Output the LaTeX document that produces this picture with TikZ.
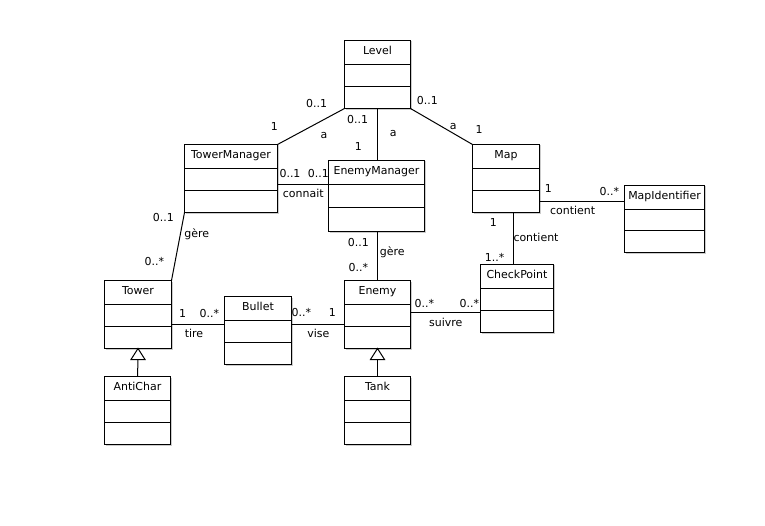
\documentclass[tikz,border=0pt]{standalone}
\usepackage{fontspec}
\setmainfont{DejaVu Sans}
\begin{document}
\begin{tikzpicture}[x=1bp,y=-1bp,
  umlclass/.style={draw=black, fill=white, line width=1bp, inner sep=0pt, outer sep=0pt, anchor=north west},
  boxshadow/.style={fill=black!20},
  umlline/.style={draw=black, line width=1bp},
  classtitle/.style={font=\fontsize{11}{13}\selectfont, inner sep=0pt, anchor=base},
  lbl/.style={font=\fontsize{11}{13}\selectfont, inner sep=0pt, anchor=base},
  gentri/.style={draw=black, fill=white, line width=1bp}]

% page area
\fill[white] (0,0) rectangle (765,526);
\useasboundingbox (0,0) rectangle (765,526);

% class box: name, left, top, width, height, title
\newcommand\classbox[6]{%
  \pgfmathsetmacro\cbsecond{24+(#5-24)/2}%
  \fill[boxshadow] (#2+1,#3+1) rectangle ++(#4+0.5,#5+0.5);
  \node[umlclass, minimum width=#4bp, minimum height=#5bp] (#1) at (#2,#3) {};
  \draw[umlline] ([yshift=-24bp]#1.north west) -- ([yshift=-24bp]#1.north east);
  \draw[umlline] ([yshift=-\cbsecond bp]#1.north west) -- ([yshift=-\cbsecond bp]#1.north east);
  \node[classtitle] (#1-title) at ([yshift=-14bp]#1.north) {#6};
}
% association label: name, x, baseline y, text
\newcommand\assoclabel[4]{\node[lbl] (#1) at (#2,#3) {#4};}

% half-pixel shift keeps the 1bp rules on the pixel grid
\begin{scope}[shift={(0.5,0.5)}]
% classes
\classbox{Level}{344}{40}{66}{68}{Level}
\classbox{TowerManager}{184}{144}{93}{68}{TowerManager}
\classbox{EnemyManager}{328}{160}{96}{71}{EnemyManager}
\classbox{Map}{472}{144}{67}{68}{Map}
\classbox{MapIdentifier}{624}{185}{80}{67}{MapIdentifier}
\classbox{CheckPoint}{480}{264}{73}{68}{CheckPoint}
\classbox{Tower}{104}{280}{67}{68}{Tower}
\classbox{Bullet}{224}{296}{67}{68}{Bullet}
\classbox{Enemy}{344}{280}{66}{68}{Enemy}
\classbox{AntiChar}{104}{376}{66}{68}{AntiChar}
\classbox{Tank}{344}{376}{66}{68}{Tank}

% associations
\draw[umlline] (Level.south west) -- (TowerManager.north east);
\coordinate (lvlink) at (377,108);
\draw[umlline] (lvlink) -- (lvlink |- EnemyManager.north);
\draw[umlline] (Level.south east) -- (Map.north west);
\coordinate (emlink) at ([yshift=-24bp]EnemyManager.north west);
\draw[umlline] (TowerManager.east |- emlink) -- (emlink);
\draw[umlline] (TowerManager.south west) -- (Tower.north east);
\coordinate (egerelink) at (377,231);
\draw[umlline] (EnemyManager.south -| egerelink) -- (Enemy.north -| egerelink);
\coordinate (maplink) at ([yshift=11bp]Map.south east);
\draw[umlline] (maplink) -- (MapIdentifier.west |- maplink);
\coordinate (cplink) at (513,212);
\draw[umlline] (Map.south -| cplink) -- (CheckPoint.north -| cplink);
\coordinate (tirelink) at ([yshift=6bp]Bullet.west);
\draw[umlline] (Tower.east |- tirelink) -- (tirelink);
\coordinate (viselink) at ([yshift=6bp]Bullet.east);
\draw[umlline] (viselink) -- (Enemy.west |- viselink);
\coordinate (suivlink) at ([yshift=2bp]Enemy.east);
\draw[umlline] (suivlink) -- (CheckPoint.west |- suivlink);

% generalizations
\draw[gentri] (Tower.south) -- ++(-7,11) -- ++(14,0) -- cycle;
\draw[umlline] ([yshift=-11bp]Tower.south) -- (AntiChar.north);
\draw[gentri] (Enemy.south) -- ++(-7,11) -- ++(14,0) -- cycle;
\draw[umlline] ([yshift=-11bp]Enemy.south) -- (Tank.north);
\end{scope}

% multiplicities and role names
\assoclabel{m1}{316.7}{107.5}{0..1}
\assoclabel{m2}{274.3}{130.7}{1}
\assoclabel{r1}{324}{139}{a}
\assoclabel{m3}{357.7}{123.3}{0..1}
\assoclabel{r2}{393.3}{137}{a}
\assoclabel{m4}{358.3}{150.7}{1}
\assoclabel{m5}{427.3}{104.7}{0..1}
\assoclabel{r3}{453.3}{130}{a}
\assoclabel{m6}{479}{134}{1}
\assoclabel{m7}{290}{178}{0..1}
\assoclabel{m8}{318.3}{178}{0..1}
\assoclabel{r4}{303.3}{198}{connait}
\assoclabel{m9}{163.3}{221.7}{0..1}
\assoclabel{r5}{196.7}{237.5}{gère}
\assoclabel{m10}{154.3}{265.7}{0..*}
\assoclabel{m11}{358.3}{246.3}{0..1}
\assoclabel{r6}{392.3}{256}{gère}
\assoclabel{m12}{358.3}{271.3}{0..*}
\assoclabel{m13}{182.7}{317.3}{1}
\assoclabel{m14}{209.3}{317.3}{0..*}
\assoclabel{r7}{194}{337.5}{tire}
\assoclabel{m15}{301.3}{316.3}{0..*}
\assoclabel{m16}{332.3}{316.3}{1}
\assoclabel{r8}{318.3}{337.5}{vise}
\assoclabel{m17}{548.3}{192.3}{1}
\assoclabel{m18}{609.3}{196}{0..*}
\assoclabel{r9}{572.7}{214.5}{contient}
\assoclabel{m19}{493.3}{226.7}{1}
\assoclabel{r10}{536}{241.5}{contient}
\assoclabel{m20}{494.7}{261.7}{1..*}
\assoclabel{m21}{424.3}{307.3}{0..*}
\assoclabel{m22}{469.3}{307.3}{0..*}
\assoclabel{r11}{445.7}{326.5}{suivre}
\end{tikzpicture}
\end{document}
